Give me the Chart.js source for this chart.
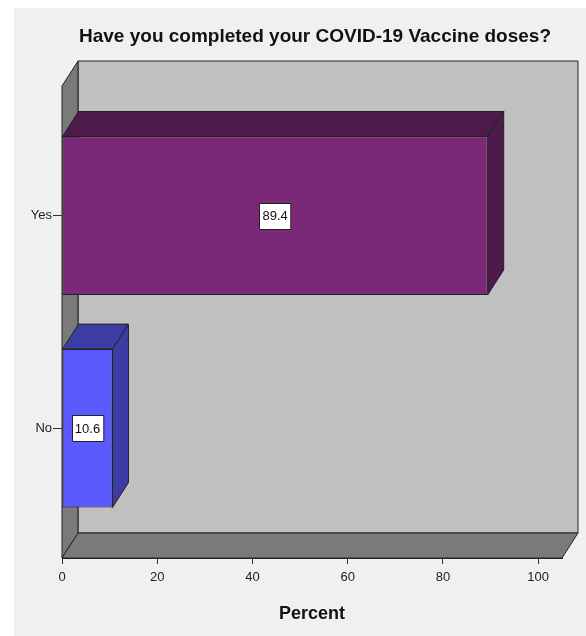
<!DOCTYPE html>
<html>
<head>
<meta charset="utf-8">
<script src="https://cdn.jsdelivr.net/npm/chart.js@4.4.1/dist/chart.umd.min.js"></script>
<style>
  html, body { margin: 0; padding: 0; background: #ffffff; }
  canvas { display: block; }
</style>
</head>
<body>
<canvas id="chart" width="586" height="636"></canvas>
<script>
// Survey answers and their share of respondents
const categories = ['Yes', 'No'];
const percents = [89.4, 10.6];
const percentTicks = [0, 20, 40, 60, 80, 100];

const chartTitle = 'Have you completed your COVID-19 Vaccine doses?';
const axisTitle = 'Percent';

const faceColors = ['#7b2879', '#5a5aff'];
const shadeColors = ['#4e1a4b', '#3b3ca4'];

const FONT = '"Liberation Sans", Arial, Helvetica, sans-serif';
const DEPTH_X = 16;   // 3D depth offset to the right
const DEPTH_Y = 25;   // 3D depth offset upward
const EDGE = '#222222';

// Panel, title and the 3D walls behind the bars
const framePlugin = {
  id: 'frame3d',
  beforeDraw(chart) {
    const ctx = chart.ctx;
    const a = chart.chartArea;
    ctx.save();
    ctx.fillStyle = '#f0f0f0';
    ctx.fillRect(14, 8, chart.width - 14, chart.height - 8);

    ctx.lineWidth = 1;
    ctx.strokeStyle = EDGE;
    ctx.lineJoin = 'round';
    const L = a.left, R = a.right, T = a.top, B = a.bottom;
    const poly = (pts, fill) => {
      ctx.beginPath();
      ctx.moveTo(pts[0][0], pts[0][1]);
      for (let i = 1; i < pts.length; i++) ctx.lineTo(pts[i][0], pts[i][1]);
      ctx.closePath();
      ctx.fillStyle = fill;
      ctx.fill();
      ctx.stroke();
    };
    // back wall
    poly([[L + DEPTH_X, T - DEPTH_Y], [R + DEPTH_X, T - DEPTH_Y], [R + DEPTH_X, B - DEPTH_Y], [L + DEPTH_X, B - DEPTH_Y]], '#c0c0c0');
    // left wall
    poly([[L, T], [L + DEPTH_X, T - DEPTH_Y], [L + DEPTH_X, B - DEPTH_Y], [L, B]], '#7a7a7a');
    // floor
    poly([[L, B], [L + DEPTH_X, B - DEPTH_Y], [R + DEPTH_X, B - DEPTH_Y], [R, B]], '#7a7a7a');

    // chart title
    ctx.fillStyle = '#111111';
    ctx.font = 'bold 19px ' + FONT;
    ctx.textAlign = 'center';
    ctx.textBaseline = 'middle';
    ctx.fillText(chartTitle, 315, 37);
    ctx.restore();
  }
};

// Top and side faces of each bar, plus the boxed value labels
const barDepthPlugin = {
  id: 'barDepth',
  afterDatasetsDraw(chart) {
    const ctx = chart.ctx;
    const meta = chart.getDatasetMeta(0);
    ctx.save();
    ctx.lineWidth = 1;
    ctx.strokeStyle = EDGE;
    ctx.lineJoin = 'round';
    meta.data.forEach((bar, i) => {
      const p = bar.getProps(['x', 'y', 'base', 'height'], true);
      const top = p.y - p.height / 2;
      const bottom = p.y + p.height / 2;
      const x0 = Math.min(p.base, p.x), x1 = Math.max(p.base, p.x);
      ctx.fillStyle = shadeColors[i];
      // top face
      ctx.beginPath();
      ctx.moveTo(x0, top);
      ctx.lineTo(x0 + DEPTH_X, top - DEPTH_Y);
      ctx.lineTo(x1 + DEPTH_X, top - DEPTH_Y);
      ctx.lineTo(x1, top);
      ctx.closePath();
      ctx.fill();
      ctx.stroke();
      // right face
      ctx.beginPath();
      ctx.moveTo(x1, top);
      ctx.lineTo(x1 + DEPTH_X, top - DEPTH_Y);
      ctx.lineTo(x1 + DEPTH_X, bottom - DEPTH_Y);
      ctx.lineTo(x1, bottom);
      ctx.closePath();
      ctx.fill();
      ctx.stroke();
    });

    // value labels in white boxes at the centre of each front face
    ctx.font = '13px ' + FONT;
    ctx.textAlign = 'center';
    ctx.textBaseline = 'middle';
    meta.data.forEach((bar, i) => {
      const p = bar.getProps(['x', 'y', 'base'], true);
      const cx = (p.x + p.base) / 2;
      const text = percents[i].toFixed(1);
      const w = ctx.measureText(text).width + 6;
      const h = 26;
      const bx = Math.round(cx - w / 2) + 0.5;
      const by = Math.round(p.y - h / 2) + 0.5;
      ctx.fillStyle = '#ffffff';
      ctx.fillRect(bx, by, w, h);
      ctx.strokeStyle = EDGE;
      ctx.strokeRect(bx, by, w, h);
      ctx.fillStyle = '#111111';
      ctx.fillText(text, cx, p.y + 1);
    });
    ctx.restore();
  }
};

new Chart(document.getElementById('chart'), {
  type: 'bar',
  data: {
    datasets: [{
      data: categories.map((c, i) => ({ x: percents[i], y: i })),
      backgroundColor: faceColors,
      borderColor: EDGE,
      borderWidth: 1,
      borderSkipped: false,
      categoryPercentage: 1,
      barPercentage: 0.745
    }]
  },
  options: {
    indexAxis: 'y',
    responsive: false,
    devicePixelRatio: 1,
    animation: false,
    layout: { padding: { top: 86, right: 24, left: 0, bottom: 0 } },
    plugins: {
      legend: { display: false },
      tooltip: { enabled: false },
      title: { display: false }
    },
    scales: {
      x: {
        type: 'linear',
        position: 'bottom',
        min: 0,
        max: 105,
        afterBuildTicks: (s) => { s.ticks = percentTicks.map(v => ({ value: v })); },
        afterFit: (s) => { s.height = 78; },
        grid: { display: true, drawOnChartArea: false, drawTicks: true, tickLength: 6, color: '#333333' },
        border: { display: true, color: EDGE },
        ticks: { padding: 6, color: '#222222', font: { family: FONT, size: 13 } },
        title: {
          display: true,
          text: axisTitle,
          color: '#111111',
          font: { family: FONT, size: 18, weight: 'bold' },
          padding: { top: 4, bottom: 11 }
        }
      },
      y: {
        type: 'linear',
        reverse: true,
        offset: false,
        min: -0.61,
        max: 1.61,
        afterBuildTicks: (s) => { s.ticks = categories.map((c, i) => ({ value: i })); },
        afterFit: (s) => { s.width = 62; },
        grid: { display: true, offset: false, drawOnChartArea: false, drawTicks: true, tickLength: 9, color: '#333333' },
        border: { display: false },
        ticks: {
          padding: 1,
          color: '#222222',
          font: { family: FONT, size: 13 },
          callback: (v) => categories[v]
        }
      }
    }
  },
  plugins: [framePlugin, barDepthPlugin]
});
</script>
</body>
</html>
